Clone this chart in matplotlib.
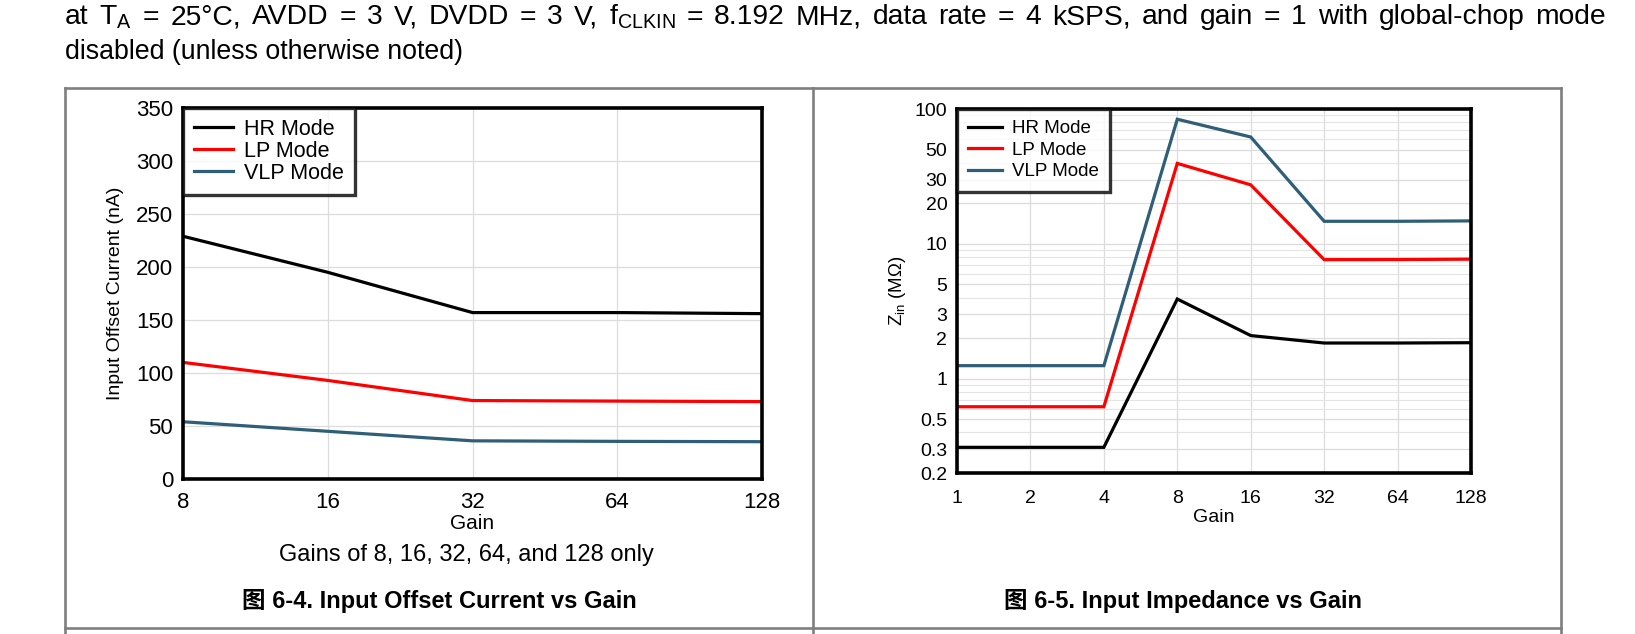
import matplotlib
matplotlib.use("Agg")
import matplotlib.pyplot as plt
from matplotlib.lines import Line2D
from matplotlib.ticker import FixedLocator, NullFormatter

plt.rcParams['font.family'] = ['Liberation Sans', 'Noto Sans CJK SC']
plt.rcParams['mathtext.fontset'] = 'custom'
plt.rcParams['mathtext.rm'] = 'Liberation Sans'
plt.rcParams['mathtext.it'] = 'Liberation Sans:italic'

## DATA ##
# fig 6-4: input offset current (nA) vs gain
gain_ioc = [8, 16, 32, 64, 128]
hr_ioc = [229, 195, 157, 157, 156]
lp_ioc = [110, 93, 74, 73.5, 73]
vlp_ioc = [54, 45, 36, 35.5, 35.2]

# fig 6-5: input impedance (MOhm) vs gain
gain_zin = [1, 2, 4, 8, 16, 32, 64, 128]
hr_zin = [0.31, 0.31, 0.31, 3.9, 2.09, 1.84, 1.84, 1.85]
lp_zin = [0.62, 0.62, 0.62, 39.5, 27.4, 7.64, 7.65, 7.7]
vlp_zin = [1.25, 1.25, 1.25, 84, 62, 14.7, 14.7, 14.8]

ioc_yticks = [0, 50, 100, 150, 200, 250, 300, 350]
zin_yticks = [0.2, 0.3, 0.5, 1, 2, 3, 5, 10, 20, 30, 50, 100]
zin_ylabels = ['0.2', '0.3', '0.5', '1', '2', '3', '5', '10', '20', '30', '50', '100']
zin_minor = [0.4, 0.6, 0.7, 0.8, 0.9, 4, 6, 7, 8, 9, 40, 60, 70, 80, 90]

modes = ['HR Mode', 'LP Mode', 'VLP Mode']
colors = ['black', '#ff0000', '#2e5e78']

header1 = ('at T$_\\mathrm{A}$ = 25\u00b0C, AVDD = 3 V, DVDD = 3 V, f$_\\mathrm{CLKIN}$ = 8.192 MHz, '
           'data rate = 4 kSPS, and gain = 1 with global-chop mode')
header2 = 'disabled (unless otherwise noted)'

W, H = 1635, 634
fig = plt.figure(figsize=(W / 100, H / 100), dpi=100)


def px_box(x0, y0, x1, y1):
    # pixel box (top-left origin) -> figure fraction rect
    return [x0 / W, 1 - y1 / H, (x1 - x0) / W, (y1 - y0) / H]


def style_axes(ax, fs, xpad):
    for sp in ax.spines.values():
        sp.set_linewidth(2.6)
        sp.set_color('black')
        sp.set_zorder(5)
    ax.tick_params(which='both', length=0, labelsize=fs, pad=7)
    ax.tick_params(axis='x', pad=xpad)
    ax.grid(True, which='major', color='#dcdcdc', lw=0.9)
    ax.set_axisbelow(True)


def add_legend(ax, fs, spacing, bpad, tpad):
    leg = ax.legend(loc='upper left', borderaxespad=0, fancybox=False,
                    edgecolor='black', fontsize=fs, handlelength=1.8,
                    handletextpad=tpad, labelspacing=spacing, borderpad=bpad)
    leg.get_frame().set_linewidth(2.4)
    leg.set_zorder(6)
    return leg


## LEFT: INPUT OFFSET CURRENT ##
ax1 = fig.add_axes(px_box(183, 108, 762, 479))
for y, c, m in zip([hr_ioc, lp_ioc, vlp_ioc], colors, modes):
    ax1.plot(gain_ioc, y, color=c, lw=2.3, label=m, solid_joinstyle='miter')
ax1.set_xscale('log', base=2)
ax1.set_xlim(8, 128)
ax1.set_ylim(0, 350)
ax1.xaxis.set_major_locator(FixedLocator(gain_ioc))
ax1.set_xticklabels([str(g) for g in gain_ioc])
ax1.xaxis.set_minor_formatter(NullFormatter())
ax1.set_yticks(ioc_yticks)
style_axes(ax1, 16, 9)
ax1.set_xlabel('Gain', fontsize=15, labelpad=1)
ax1.set_ylabel('Input Offset Current (nA)', fontsize=14, labelpad=9)
add_legend(ax1, 15.5, 0.05, 0.5, 0.55)

## RIGHT: INPUT IMPEDANCE ##
ax2 = fig.add_axes(px_box(957, 109, 1471, 473))
for y, c, m in zip([hr_zin, lp_zin, vlp_zin], colors, modes):
    ax2.plot(gain_zin, y, color=c, lw=2.3, label=m, solid_joinstyle='miter')
ax2.set_xscale('log', base=2)
ax2.set_yscale('log')
ax2.set_xlim(1, 128)
ax2.set_ylim(0.2, 100)
ax2.xaxis.set_major_locator(FixedLocator(gain_zin))
ax2.set_xticklabels([str(g) for g in gain_zin])
ax2.xaxis.set_minor_formatter(NullFormatter())
ax2.yaxis.set_major_locator(FixedLocator(zin_yticks))
ax2.set_yticklabels(zin_ylabels)
ax2.yaxis.set_minor_locator(FixedLocator(zin_minor))
ax2.yaxis.set_minor_formatter(NullFormatter())
style_axes(ax2, 14, 12)
ax2.grid(True, which='minor', axis='y', color='#e4e4e4', lw=0.8)
ax2.set_xlabel('Gain', fontsize=14, labelpad=2)
ax2.set_ylabel('Z$_\\mathrm{in}$ (M\u03a9)', fontsize=13.5, labelpad=5)
add_legend(ax2, 13.5, 0.23, 0.6, 0.55)

## HEADER (line 1 is justified, like the datasheet) ##
renderer = fig.canvas.get_renderer()
words = header1.split(' ')
texts = [fig.text(0, 1 - 24.5 / H, w, fontsize=20.3, va='baseline', ha='left') for w in words]
widths = [t.get_window_extent(renderer).width for t in texts]
x_left, x_right = 65, 1606
gap = (x_right - x_left - sum(widths)) / (len(words) - 1)
xpos = x_left
for t, w in zip(texts, widths):
    t.set_x(xpos / W)
    xpos += w + gap
fig.text(x_left / W, 1 - 59 / H, header2, fontsize=19.3, va='baseline', ha='left')

## CAPTIONS ##
fig.text(466 / W, 1 - 555 / H, 'Gains of 8, 16, 32, 64, and 128 only',
         fontsize=17, va='center', ha='center')
fig.text(439 / W, 1 - 601 / H, '\u56fe 6-4. Input Offset Current vs Gain',
         fontsize=17, fontweight='bold', va='center', ha='center')
fig.text(1183 / W, 1 - 601 / H, '\u56fe 6-5. Input Impedance vs Gain',
         fontsize=17, fontweight='bold', va='center', ha='center')

## TABLE FRAME ##
frame_kw = dict(color='#7f7f7f', lw=1.9, transform=fig.transFigure)
fig.add_artist(Line2D([65 / W, 1561 / W], [1 - 88 / H, 1 - 88 / H], **frame_kw))
fig.add_artist(Line2D([65 / W, 1561 / W], [1 - 628 / H, 1 - 628 / H], **frame_kw))
for xp in [65, 813, 1561]:
    fig.add_artist(Line2D([xp / W, xp / W], [1 - 88 / H, 0], **frame_kw))

fig.savefig('out.png', dpi=100)
